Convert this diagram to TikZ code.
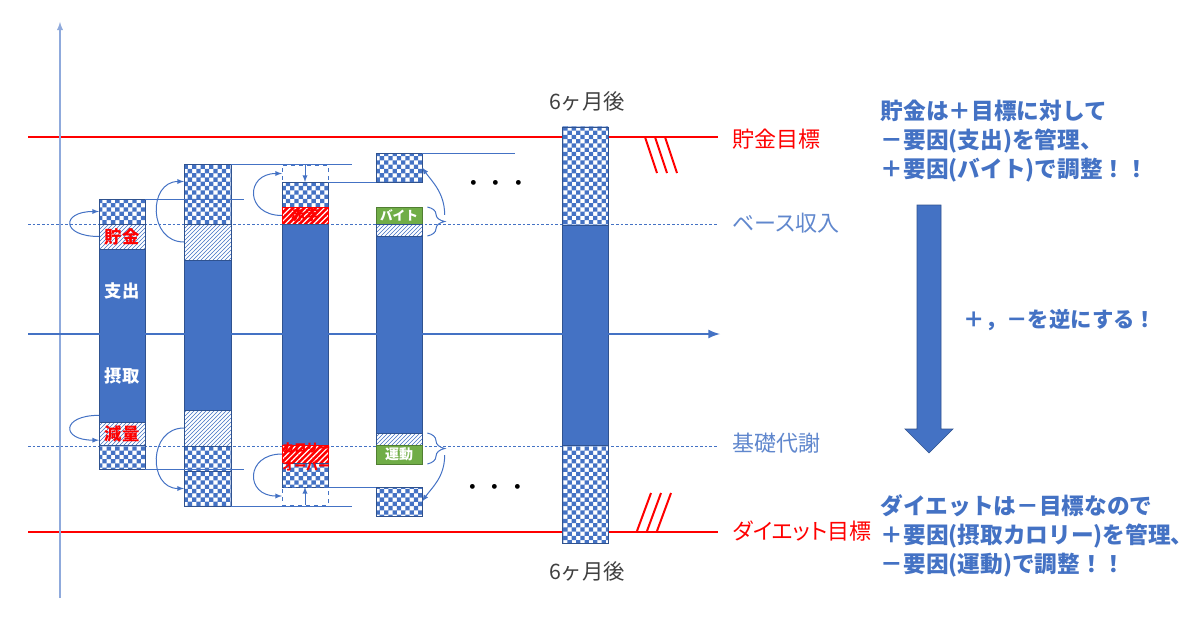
\documentclass[tikz,border=0pt]{standalone}
\usepackage{fontspec}
\setmainfont{Noto Sans CJK JP}
\newfontfamily\propjp{Noto Sans CJK JP}[RawFeature=+palt]
\usetikzlibrary{patterns,patterns.meta,fit,decorations.pathreplacing}

\definecolor{bar}{HTML}{4472C4}
\definecolor{barline}{HTML}{2F528F}
\definecolor{lightax}{HTML}{8FAADC}
\definecolor{grn}{HTML}{70AD47}
\definecolor{grnline}{HTML}{507E32}
\definecolor{gr}{HTML}{404040}

\pgfdeclarepatternformonly{bluechecks}{\pgfpointorigin}{\pgfqpoint{6.5pt}{6.5pt}}{\pgfqpoint{6.4pt}{6.4pt}}{%
  \pgfpathrectangle{\pgfpointorigin}{\pgfqpoint{3.25pt}{3.25pt}}%
  \pgfpathrectangle{\pgfqpoint{3.2pt}{3.2pt}}{\pgfqpoint{3.25pt}{3.25pt}}%
  \pgfusepath{fill}}

\begin{document}
\begin{tikzpicture}[x=0.75pt, y=-0.75pt, >=latex,
  seg/.style={inner sep=0, outer sep=0, draw=barline, line width=0.5pt},
  chkbox/.style={seg, preaction={fill=white}, pattern=bluechecks, pattern color=bar},
  hatchbox/.style={seg, preaction={fill=white}, pattern=north east lines, pattern color=bar},
  redbox/.style={seg, draw=red, preaction={fill=red}, pattern={Lines[angle=45, distance=3pt, line width=0.9pt]}, pattern color=white},
  greenbox/.style={seg, draw=grnline, fill=grn},
  fullbox/.style={seg, fill=bar},
  emptybox/.style={seg, draw=bar, dashed},
  conn/.style={draw=bar, line width=0.75pt},
  goalline/.style={red, line width=1.5pt},
  baseline/.style={bar, line width=0.75pt, dash pattern=on 2pt off 1.5pt},
  goal/.style={red, anchor=west, font=\propjp\fontsize{16.5}{20}\selectfont},
  level/.style={bar!85!white, anchor=west, font=\propjp\fontsize{16.5}{20}\selectfont},
  inbar/.style={white, font=\bfseries\fontsize{13}{15}\selectfont},
  inred/.style={red, font=\bfseries\fontsize{13}{15}\selectfont},
  ingreen/.style={white, font=\bfseries\fontsize{9.5}{11}\selectfont},
  month/.style={gr, font=\fontsize{16}{18}\selectfont},
  note/.style={bar, anchor=west, align=left, font=\bfseries\fontsize{17}{21.75}\selectfont}]

  \useasboundingbox (0,0) rectangle (1200,617);

  %linhas de meta e base
  \draw[goalline] (28,137) -- (718,137);
  \draw[goalline] (28,532) -- (718,532);
  \draw[baseline] (28,224) -- (718,224);
  \draw[baseline] (28,446) -- (718,446);
  \node[goal] (gsave) at (728,139) {貯金目標};
  \node[goal] (gdiet) at (728,531) {ダイエット目標};
  \node[level] (lbase) at (728,223) {ベース収入};
  \node[level] (lbmr) at (728,443) {基礎代謝};

  %quebras
  \foreach \d in {0,10,20}
    \draw[goalline] (645+\d,137) -- (657+\d,173);
  \foreach \d in {0,10,20}
    \draw[goalline] (637+\d,531) -- (651+\d,493);

  %eixo vertical
  \draw[->, lightax, line width=1.1pt] (60,598) -- (60,22);

  %barra 1
  \node[chkbox, fit={(99,199) (145,224)}] (b1a) {};
  \node[hatchbox, fit={(99,224) (145,249)}] (b1b) {};
  \node[fullbox, fit={(99,249) (145,422)}] (b1c) {};
  \node[hatchbox, fit={(99,422) (145,445)}] (b1d) {};
  \node[chkbox, fit={(99,445) (145,469)}] (b1e) {};
  \node[inred] (lsave) at (b1b) {貯金};
  \node[inred] (lcut) at (b1d) {減量};
  \node[inbar] (lout) at (122,291) {支出};
  \node[inbar] (lin) at (122,376) {摂取};

  %barra 2
  \node[chkbox, fit={(184,164) (231,199)}] (b2a) {};
  \node[chkbox, fit={(184,199) (231,224)}] (b2b) {};
  \node[hatchbox, fit={(184,224) (231,260)}] (b2c) {};
  \node[fullbox, fit={(184,260) (231,410)}] (b2d) {};
  \node[hatchbox, fit={(184,410) (231,446)}] (b2e) {};
  \node[chkbox, fit={(184,446) (231,471)}] (b2f) {};
  \node[chkbox, fit={(184,471) (231,506)}] (b2g) {};

  %barra 3
  \node[emptybox, fit={(282,165) (328,182)}] (b3a) {};
  \node[chkbox, fit={(282,182) (328,207)}] (b3b) {};
  \node[redbox, fit={(282,207) (328,224)}] (b3c) {};
  \node[fullbox, fit={(282,224) (328,445)}] (b3d) {};
  \node[redbox, fit={(282,445) (328,463)}] (b3e) {};
  \node[chkbox, fit={(282,463) (328,487)}] (b3f) {};
  \node[emptybox, fit={(282,487) (328,505)}] (b3g) {};
  \node[red, font=\bfseries\fontsize{10.5}{12}\selectfont] (ldef) at (b3c) {赤字};
  \node[red, anchor=west, align=left, inner sep=0, font=\bfseries\fontsize{9}{13.5}\selectfont] (lover) at (282,457) {カロリー\\オーバー};

  %barra 4
  \node[chkbox, fit={(376,153) (422,182)}] (b4a) {};
  \node[greenbox, fit={(376,207) (422,224)}] (b4b) {};
  \node[hatchbox, fit={(376,224) (422,236)}] (b4c) {};
  \node[fullbox, fit={(376,236) (422,433)}] (b4d) {};
  \node[hatchbox, fit={(376,433) (422,445)}] (b4e) {};
  \node[greenbox, fit={(376,445) (422,464)}] (b4f) {};
  \node[chkbox, fit={(376,487) (422,516)}] (b4g) {};
  \node[ingreen] (ljob) at (b4b) {バイト};
  \node[ingreen, font=\bfseries\fontsize{10.5}{12}\selectfont] (lrun) at (b4f) {運動};

  %barra 5
  \node[chkbox, fit={(562,127) (608,225)}] (b5a) {};
  \node[fullbox, fit={(562,225) (608,445)}] (b5b) {};
  \node[chkbox, fit={(562,445) (608,543)}] (b5c) {};
  \node[month] (mtop) at (587,101) {6ヶ月後};
  \node[month] (mbot) at (587,571) {6ヶ月後};

  \node[font=\fontsize{17}{20}\selectfont] (dtop) at (496,186) {・・・};
  \node[font=\fontsize{17}{20}\selectfont] (dbot) at (495,490) {・・・};

  %eixo horizontal
  \draw[->, bar, line width=2pt] (28,334) -- (720,334);

  %linhas entre barras
  \draw[conn] (b1a.north east) -- ++(99,0);
  \draw[conn] (b1e.south east) -- ++(99,0);
  \draw[conn] (b2a.north east) -- ++(121,0);
  \draw[conn] (b2g.south east) -- ++(121,0);
  \draw[conn] (b3b.north east) -- (b4a.south west);
  \draw[conn] (b3f.south east) -- (b4g.north west);
  \draw[conn] (b4a.north east) -- ++(93,0);

  %setas curvas
  \draw[conn, ->] (b1b.west) .. controls +(-38,0) and +(-38,0) .. (b1a.west);
  \draw[conn, ->] ([yshift=5pt]b1c.south west) .. controls +(-38,0) and +(-38,0) .. ([yshift=-5pt]b1d.west);
  \draw[conn, ->] (b2c.west) .. controls +(-36,0) and +(-36,0) .. (b2a.west);
  \draw[conn, ->] (b2e.west) .. controls +(-36,0) and +(-36,0) .. (b2g.west);
  \draw[conn, ->] (b3c.west) .. controls +(-37,0) and +(-37,0) .. (b3a.west);
  \draw[conn, ->] (b3e.west) .. controls +(-37,0) and +(-37,0) .. (b3g.west);
  \draw[conn, ->] (b3a.north) -- (b3a.south);
  \draw[conn, ->] (b3g.south) -- (b3g.north);

  %chaves
  \draw[conn, decorate, decoration={brace, amplitude=13pt}] ([xshift=4pt]b4b.north east) -- ([xshift=4pt]b4c.south east) coordinate[midway, xshift=13pt] (t1);
  \draw[conn, decorate, decoration={brace, amplitude=13pt}] ([xshift=4pt]b4e.north east) -- ([xshift=4pt]b4f.south east) coordinate[midway, xshift=13pt] (t2);
  \draw[conn, ->] ([yshift=5pt]t1) .. controls +(0,-22) and +(10,14) .. (b4a.east);
  \draw[conn, ->] ([yshift=-5pt]t2) .. controls +(0,22) and +(10,-14) .. (b4g.east);

  %texto da direita
  \node[note] (nsave) at (876,141) {貯金は＋目標に対して\\－要因(支出)を管理、\\＋要因(バイト)で調整！！};
  \node[note] (ndiet) at (876,536) {ダイエットは－目標なので\\＋要因(摂取カロリー)を管理、\\－要因(運動)で調整！！};
  \fill[bar, draw=barline, line width=0.5pt] (917,205) -- (941,205) -- (941,429) -- (953,429) -- (929,453) -- (905,429) -- (917,429) -- cycle;
  \node[bar, font=\bfseries\fontsize{16}{20}\selectfont] (nswap) at (1060,320) {＋，－を逆にする！};
\end{tikzpicture}
\end{document}
